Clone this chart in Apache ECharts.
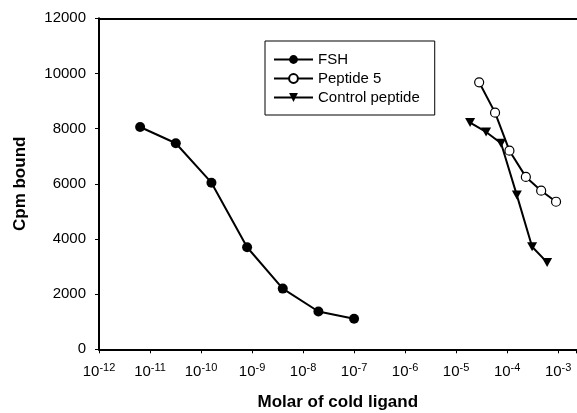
<!DOCTYPE html>
<html>
<head>
<meta charset="utf-8">
<script src="https://cdn.jsdelivr.net/npm/echarts@6/dist/echarts.min.js"></script>
<style>
html,body{margin:0;padding:0;background:#fff;}
#c{width:577px;height:413px;}
</style>
</head>
<body>
<div id="c"></div>
<script>
// Data (concentration in M, counts in cpm)
var fshX = [6.4e-12, 3.2e-11, 1.6e-10, 8e-10, 4e-9, 2e-8, 1e-7];
var fshY = [8060, 7470, 6040, 3700, 2200, 1370, 1110];
var pep5X = [2.83e-5, 5.8e-5, 1.11e-4, 2.33e-4, 4.65e-4, 9.1e-4];
var pep5Y = [9680, 8580, 7200, 6250, 5750, 5350];
var ctrlX = [1.88e-5, 3.87e-5, 7.6e-5, 1.55e-4, 3.09e-4, 6.08e-4];
var ctrlY = [8220, 7880, 7470, 5590, 3720, 3150];
var seriesNames = ['FSH', 'Peptide 5', 'Control peptide'];
var xMinExp = -12, xMaxExp = -2.64;
var yTicks = [0, 2000, 4000, 6000, 8000, 10000, 12000];

function pairs(xs, ys){ return xs.map(function(x,i){ return [x, ys[i]]; }); }

var FONT = "'Liberation Sans', Arial, sans-serif";
var chart = echarts.init(document.getElementById('c'), null, {renderer:'canvas'});
chart.setOption({
  animation: false,
  backgroundColor: '#fff',
  textStyle: {fontFamily: FONT, color: '#000'},
  grid: {left: 99, right: 0.5, top: 18.3, bottom: 63.7, containLabel: false, outerBoundsMode: 'none'},
  legend: {
    data: seriesNames,
    orient: 'vertical',
    left: 265, top: 41,
    padding: [11, 15, 10, 8],
    borderColor: '#000', borderWidth: 1,
    backgroundColor: '#fff',
    itemWidth: 39, itemHeight: 11, itemGap: 4,
    textStyle: {fontFamily: FONT, fontSize: 15, color: '#000', lineHeight: 15}
  },
  xAxis: [{
    type: 'log', logBase: 10,
    min: Math.pow(10, xMinExp), max: Math.pow(10, xMaxExp), interval: 1,
    name: 'Molar of cold ligand', nameLocation: 'middle', nameGap: 45,
    nameTextStyle: {fontFamily: FONT, fontSize: 17, fontWeight: 'bold', color: '#000'},
    axisLine: {show: true, lineStyle: {color: '#000', width: 2}},
    axisTick: {show: true, inside: false, length: 4, lineStyle: {color: '#000', width: 1}},
    splitLine: {show: false},
    axisLabel: {
      margin: 13, color: '#000', fontFamily: FONT, fontSize: 15, showMaxLabel: true, showMinLabel: true,
      formatter: function(v){
        var e = Math.log(v)/Math.LN10;
        var r = Math.round(e);
        if (Math.abs(e - r) > 0.02) return '';
        return '{b|10}{s|' + r + '}';
      },
      rich: {
        b: {fontFamily: FONT, fontSize: 15, color: '#000', verticalAlign: 'bottom'},
        s: {fontFamily: FONT, fontSize: 11, color: '#000', verticalAlign: 'bottom', padding: [0,0,6,0]}
      }
    }
  }, {
    type: 'value', position: 'top', min: 0, max: 1,
    axisLine: {show: true, onZero: false, lineStyle: {color: '#000', width: 2}},
    axisTick: {show: false}, axisLabel: {show: false}, splitLine: {show: false}
  }],
  yAxis: {
    type: 'value', min: yTicks[0], max: yTicks[yTicks.length-1], interval: 2000,
    name: 'Cpm bound', nameLocation: 'middle', nameGap: 70, nameRotate: 90,
    nameTextStyle: {fontFamily: FONT, fontSize: 17, fontWeight: 'bold', color: '#000'},
    axisLine: {show: true, lineStyle: {color: '#000', width: 2}},
    axisTick: {show: true, inside: false, length: 4, lineStyle: {color: '#000', width: 1}},
    splitLine: {show: false},
    axisLabel: {margin: 13, fontSize: 15, color: '#000', fontFamily: FONT,
      formatter: function(v){ return String(v); }}
  },
  series: [{
    name: seriesNames[0], type: 'line', data: pairs(fshX, fshY),
    symbol: 'circle', symbolSize: 10,
    itemStyle: {color: '#000'}, lineStyle: {color: '#000', width: 2}
  }, {
    name: seriesNames[1], type: 'line', data: pairs(pep5X, pep5Y),
    symbol: 'circle', symbolSize: 9,
    itemStyle: {color: '#fff', borderColor: '#000', borderWidth: 1.2}, lineStyle: {color: '#000', width: 2}
  }, {
    name: seriesNames[2], type: 'line', data: pairs(ctrlX, ctrlY),
    symbol: 'triangle', symbolSize: [10, 9], symbolRotate: 180,
    itemStyle: {color: '#000'}, lineStyle: {color: '#000', width: 2}
  }]
});
</script>
</body>
</html>
